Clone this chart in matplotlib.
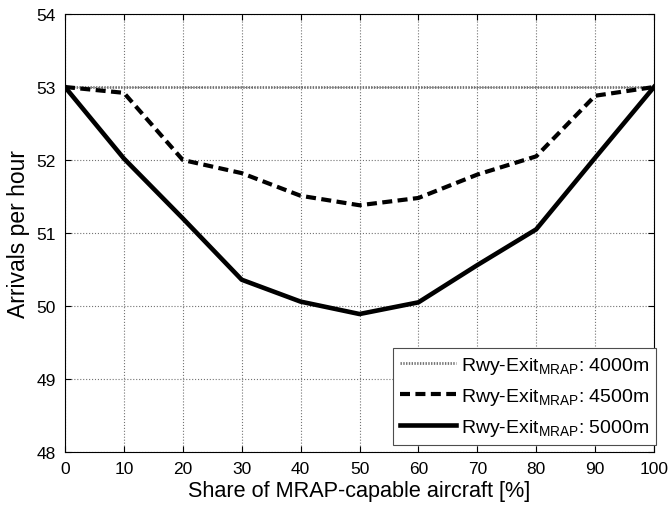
import numpy as np
import matplotlib
matplotlib.use("Agg")
import matplotlib.pyplot as plt

plt.rcParams['font.family'] = ['Liberation Sans', 'DejaVu Sans']
plt.rcParams['mathtext.fontset'] = 'custom'
plt.rcParams['mathtext.rm'] = 'Liberation Sans'
plt.rcParams['mathtext.it'] = 'Liberation Sans'

share = [0, 10, 20, 30, 40, 50, 60, 70, 80, 90, 100]
exit_4000 = [53, 53, 53, 53, 53, 53, 53, 53, 53, 53, 53]
exit_4500 = [53.0, 52.92, 52.0, 51.82, 51.51, 51.38, 51.48, 51.8, 52.05, 52.88, 53.0]
exit_5000 = [53.0, 52.02, 51.2, 50.36, 50.06, 49.89, 50.05, 50.56, 51.05, 52.03, 53.0]
labels = [r'Rwy-Exit$_{\mathrm{MRAP}}$: 4000m',
          r'Rwy-Exit$_{\mathrm{MRAP}}$: 4500m',
          r'Rwy-Exit$_{\mathrm{MRAP}}$: 5000m']

fig = plt.figure(figsize=(6.7, 5.06), dpi=100)
ax = fig.add_axes([65 / 670, 1 - 453 / 506, 589 / 670, 438 / 506])

ax.plot(share, exit_4000, color='0.45', linestyle=(0, (0.5, 0.5)), linewidth=2.0, label=labels[0])
ax.plot(share, exit_4500, color='black', linestyle=(0, (2.4, 1.3)), linewidth=3.0, label=labels[1])
ax.plot(share, exit_5000, color='black', linestyle='-', linewidth=3.3, label=labels[2])

ax.set_xlim(0, 100)
ax.set_ylim(48, 54)
ax.set_xticks(np.arange(0, 101, 10))
ax.set_yticks(np.arange(48, 55, 1))
ax.grid(True, linestyle=':', color='0.45', linewidth=0.8)
ax.tick_params(direction='in', top=True, right=True, labelsize=12.5, length=4, pad=6.5)
for s in ax.spines.values():
    s.set_linewidth(0.8)

ax.set_xlabel('Share of MRAP-capable aircraft [%]', fontsize=15.6, labelpad=3)
ax.set_ylabel('Arrivals per hour', fontsize=16.5, labelpad=5)

leg = ax.legend(loc='lower right', bbox_to_anchor=(656 / 670, 1 - 446 / 506),
                bbox_transform=fig.transFigure, fontsize=14, fancybox=False,
                framealpha=1, edgecolor='0.3', borderaxespad=0, handlelength=2.9,
                handletextpad=0.25, labelspacing=0.53, borderpad=0.35)
leg.get_frame().set_linewidth(0.8)

fig.savefig('out.png', dpi=100)
